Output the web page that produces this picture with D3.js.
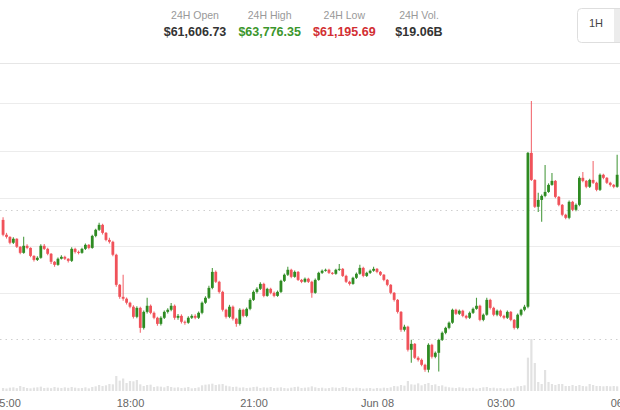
<!DOCTYPE html>
<html>
<head>
<meta charset="utf-8">
<script src="https://cdn.jsdelivr.net/npm/d3@7"></script>
<style>
  html, body { margin: 0; padding: 0; background: #fff; }
  svg { display: block; font-family: "Liberation Sans", Arial, Helvetica, sans-serif; }
</style>
</head>
<body>
<svg id="chart" width="620" height="410"></svg>
<script>

// header stats
const statLabels = ["24H Open", "24H High", "24H Low", "24H Vol."];
const statValues = ["$61,606.73", "$63,776.35", "$61,195.69", "$19.06B"];
const statColors = ["#333333", "#3b962c", "#d22f33", "#333333"];

// 5 minute candles, first one at 14:55
const firstCandle = new Date(2024, 5, 7, 14, 55);
const firstOpen = 63136;
const closes = [
  63058, 63047, 63016, 63037, 62995, 62963, 63000, 62989, 62947, 62926,
  62937, 63000, 62984, 62958, 62916, 62900, 62932, 62942, 62932, 62921,
  62984, 62968, 62963, 62984, 63005, 62989, 63052, 63084, 63110, 63068,
  63031, 63021, 62953, 62795, 62732, 62722, 62701, 62680, 62627, 62674,
  62569, 62653, 62685, 62648, 62622, 62590, 62622, 62653, 62664, 62685,
  62622, 62632, 62601, 62596, 62622, 62632, 62622, 62648, 62701, 62727,
  62779, 62863, 62811, 62758, 62664, 62627, 62680, 62617, 62590, 62664,
  62632, 62669, 62716, 62758, 62774, 62800, 62737, 62774, 62753, 62737,
  62758, 62816, 62848, 62874, 62837, 62863, 62821, 62811, 62827, 62811,
  62753, 62821, 62858, 62869, 62874, 62858, 62853, 62874, 62879, 62842,
  62811, 62800, 62832, 62853, 62884, 62842, 62858, 62869, 62879, 62863,
  62848, 62821, 62795, 62753, 62716, 62653, 62559, 62575, 62454, 62485,
  62412, 62401, 62375, 62349, 62480, 62417, 62438, 62506, 62543, 62569,
  62596, 62664, 62643, 62659, 62632, 62622, 62648, 62669, 62685, 62611,
  62638, 62716, 62674, 62638, 62659, 62632, 62622, 62653, 62611, 62569,
  62638, 62664, 62680, 63488, 63346, 63205, 63241, 63262, 63283, 63320,
  63341, 63257, 63215, 63163, 63147, 63231, 63189, 63215, 63357, 63341,
  63310, 63346, 63331, 63294, 63373, 63357, 63331, 63320, 63310, 63373
];
const highs = [
  63150, 63068, 63050, 63045, 63040, 62998, 63047, 63008, 62992, 62950,
  62945, 63008, 63010, 62990, 62962, 62920, 62938, 62950, 62948, 62935,
  62992, 62990, 62975, 62990, 63012, 63010, 63058, 63090, 63121, 63116,
  63072, 63042, 63026, 62958, 62800, 62848, 62728, 62706, 62688, 62682,
  62680, 62660, 62727, 62692, 62655, 62628, 62630, 62660, 62672, 62700,
  62692, 62642, 62640, 62608, 62630, 62640, 62640, 62655, 62708, 62735,
  62790, 62884, 62870, 62816, 62764, 62670, 62690, 62686, 62622, 62672,
  62670, 62676, 62724, 62766, 62782, 62808, 62806, 62780, 62780, 62760,
  62765, 62822, 62855, 62890, 62880, 62870, 62868, 62826, 62834, 62832,
  62816, 62828, 62864, 62875, 62880, 62879, 62862, 62880, 62905, 62884,
  62848, 62816, 62838, 62860, 62900, 62890, 62864, 62875, 62890, 62884,
  62868, 62852, 62826, 62800, 62758, 62720, 62658, 62585, 62580, 62506,
  62490, 62420, 62408, 62380, 62488, 62486, 62445, 62512, 62550, 62575,
  62602, 62670, 62670, 62666, 62664, 62638, 62655, 62676, 62727, 62690,
  62645, 62727, 62722, 62680, 62665, 62665, 62638, 62660, 62658, 62616,
  62645, 62670, 62690, 63492, 63761, 63350, 63278, 63270, 63425, 63328,
  63383, 63346, 63262, 63220, 63168, 63238, 63236, 63222, 63365, 63388,
  63346, 63352, 63446, 63336, 63380, 63378, 63362, 63336, 63325, 63478
];
const lows = [
  63050, 63038, 63008, 63010, 62988, 62955, 62958, 62982, 62940, 62918,
  62920, 62932, 62978, 62950, 62905, 62890, 62895, 62928, 62925, 62912,
  62915, 62960, 62955, 62958, 62978, 62982, 62984, 63045, 63078, 63060,
  63024, 63012, 62945, 62785, 62722, 62712, 62692, 62672, 62618, 62620,
  62543, 62560, 62645, 62640, 62614, 62580, 62582, 62615, 62645, 62656,
  62612, 62612, 62592, 62586, 62590, 62615, 62614, 62615, 62640, 62695,
  62720, 62772, 62804, 62750, 62655, 62618, 62620, 62608, 62575, 62582,
  62625, 62625, 62662, 62710, 62750, 62768, 62730, 62732, 62746, 62730,
  62732, 62752, 62810, 62842, 62830, 62832, 62815, 62804, 62806, 62804,
  62727, 62748, 62816, 62852, 62864, 62852, 62848, 62848, 62868, 62836,
  62804, 62792, 62795, 62826, 62848, 62835, 62836, 62852, 62864, 62856,
  62842, 62814, 62788, 62745, 62708, 62645, 62548, 62550, 62445, 62386,
  62405, 62392, 62368, 62338, 62335, 62408, 62410, 62340, 62500, 62536,
  62562, 62590, 62636, 62636, 62625, 62614, 62616, 62642, 62664, 62604,
  62604, 62632, 62666, 62630, 62630, 62625, 62614, 62615, 62604, 62560,
  62562, 62630, 62656, 62672, 63340, 63198, 63178, 63126, 63255, 63278,
  63315, 63250, 63208, 63155, 63140, 63140, 63182, 63182, 63208, 63334,
  63302, 63304, 63324, 63286, 63288, 63350, 63324, 63312, 63302, 63305
];
const volumes = [
  18, 15, 20, 22, 17, 30, 24, 18, 16, 20,
  22, 26, 18, 20, 17, 24, 20, 18, 22, 19,
  24, 20, 17, 18, 22, 16, 24, 28, 36, 30,
  34, 42, 40, 90, 62, 75, 48, 60, 58, 66,
  40, 30, 36, 38, 24, 28, 26, 22, 30, 24,
  20, 22, 18, 20, 24, 16, 18, 22, 34, 38,
  40, 44, 36, 40, 42, 32, 28, 24, 26, 20,
  22, 18, 20, 24, 26, 18, 22, 20, 24, 18,
  20, 22, 18, 16, 20, 24, 26, 18, 20, 22,
  28, 22, 18, 20, 16, 18, 22, 20, 18, 24,
  22, 18, 16, 20, 18, 14, 16, 18, 14, 18,
  16, 20, 18, 22, 30, 28, 36, 32, 60, 40,
  38, 46, 34, 42, 48, 36, 40, 30, 34, 26,
  22, 20, 18, 22, 20, 16, 18, 20, 14, 18,
  22, 24, 18, 20, 16, 18, 14, 16, 18, 20,
  28, 30, 34, 200, 312, 168, 54, 42, 126, 54,
  42, 36, 42, 42, 30, 30, 36, 30, 36, 30,
  28, 42, 36, 30, 30, 28, 30, 28, 30, 28
];

// price grid and reference line
const priceTicks = [62750, 63000, 63250, 63500, 63750];
const refPrice = 63189;
const timeTicks = [
  new Date(2024, 5, 7, 15), new Date(2024, 5, 7, 18), new Date(2024, 5, 7, 21),
  new Date(2024, 5, 8, 0), new Date(2024, 5, 8, 3), new Date(2024, 5, 8, 6)
];

const upColor = "#2e8b22",
      downColor = "#f0525a";

const svg = d3.select("#chart"),
      width = 620,
      height = 410;

// ---- header ----
const statX = d3.scalePoint().domain(statLabels).range([195, 419]);

svg.selectAll(".stat-label")
    .data(statLabels)
    .enter()
    .append("text")
    .attr("class", "stat-label")
    .attr("x", d => statX(d))
    .attr("y", 19)
    .attr("text-anchor", "middle")
    .attr("font-size", 10.5)
    .attr("fill", "#999")
    .text(d => d);

svg.selectAll(".stat-value")
    .data(statValues)
    .enter()
    .append("text")
    .attr("class", "stat-value")
    .attr("x", (d, i) => statX(statLabels[i]))
    .attr("y", 36)
    .attr("text-anchor", "middle")
    .attr("font-size", 12.5)
    .attr("font-weight", "bold")
    .attr("fill", (d, i) => statColors[i])
    .text(d => d);

// interval buttons
svg.append("rect")
    .attr("x", 577.5).attr("y", 8.5)
    .attr("width", 60).attr("height", 34)
    .attr("rx", 4)
    .attr("fill", "#fff")
    .attr("stroke", "#dedede");
svg.append("rect")
    .attr("x", 614).attr("y", 9)
    .attr("width", 10).attr("height", 33)
    .attr("fill", "#ececec");
svg.append("text")
    .attr("x", 596).attr("y", 27)
    .attr("text-anchor", "middle")
    .attr("font-size", 11)
    .attr("fill", "#444")
    .text("1H");

svg.append("line")
    .attr("x1", 0).attr("x2", width)
    .attr("y1", 63.5).attr("y2", 63.5)
    .attr("stroke", "#e6e6e6");

// ---- scales ----
const candles = closes.map(function(c, i){
    return {
        date: d3.timeMinute.offset(firstCandle, 5 * i),
        open: i === 0 ? firstOpen : closes[i - 1],
        high: highs[i],
        low: lows[i],
        close: c,
        volume: volumes[i]
    };
});

const xScale = d3.scaleTime()
    .domain([timeTicks[0], timeTicks[timeTicks.length - 1]])
    .range([6.5, 624]);

const yScale = d3.scaleLinear()
    .domain([62500, 63750])
    .range([341, 103]);

const vScale = d3.scaleLinear()
    .domain([0, d3.max(volumes)])
    .range([391, 339]);

// grid
svg.selectAll(".grid")
    .data(priceTicks)
    .enter()
    .append("line")
    .attr("class", "grid")
    .attr("x1", 0).attr("x2", width)
    .attr("y1", d => Math.round(yScale(d)) + 0.5)
    .attr("y2", d => Math.round(yScale(d)) + 0.5)
    .attr("stroke", "#ececec");

svg.append("line")
    .attr("x1", 0).attr("x2", width)
    .attr("y1", Math.round(yScale(refPrice)) + 0.5)
    .attr("y2", Math.round(yScale(refPrice)) + 0.5)
    .attr("stroke", "#cfcfcf")
    .attr("stroke-dasharray", "1.5,4");

svg.append("line")
    .attr("x1", 0).attr("x2", width)
    .attr("y1", Math.round(vScale(d3.max(volumes))) + 0.5)
    .attr("y2", Math.round(vScale(d3.max(volumes))) + 0.5)
    .attr("stroke", "#cfcfcf")
    .attr("stroke-dasharray", "1.5,4");

// volume
svg.selectAll(".vol")
    .data(candles)
    .enter()
    .append("rect")
    .attr("class", "vol")
    .attr("x", d => xScale(d.date) - 1.1)
    .attr("y", d => vScale(d.volume))
    .attr("width", 2.2)
    .attr("height", d => vScale(0) - vScale(d.volume))
    .attr("fill", "#e2e2e2");

// candles
const candle = svg.selectAll(".candle")
    .data(candles)
    .enter()
    .append("g")
    .attr("class", "candle");

candle.append("line")
    .attr("x1", d => xScale(d.date))
    .attr("x2", d => xScale(d.date))
    .attr("y1", d => yScale(d.high))
    .attr("y2", d => yScale(d.low))
    .attr("stroke", d => d.close >= d.open ? upColor : downColor)
    .attr("stroke-opacity", 0.85)
    .attr("stroke-width", 1.1);

candle.append("rect")
    .attr("x", d => xScale(d.date) - 1.4)
    .attr("y", d => yScale(Math.max(d.open, d.close)))
    .attr("width", 2.8)
    .attr("height", d => Math.max(1, Math.abs(yScale(d.open) - yScale(d.close))))
    .attr("fill", d => d.close >= d.open ? upColor : downColor);

// time axis
const fmt = function(d){
    return d.getHours() === 0 ? d3.timeFormat("%b %d")(d) : d3.timeFormat("%H:%M")(d);
};

const xAxis = svg.append("g")
    .attr("transform", "translate(0,396)")
    .call(d3.axisBottom(xScale).tickValues(timeTicks).tickFormat(fmt).tickSize(0));

xAxis.select(".domain").remove();
xAxis.selectAll("text")
    .attr("font-family", "Liberation Sans, Arial, sans-serif")
    .attr("font-size", 11)
    .attr("fill", "#666");

</script>
</body>
</html>
